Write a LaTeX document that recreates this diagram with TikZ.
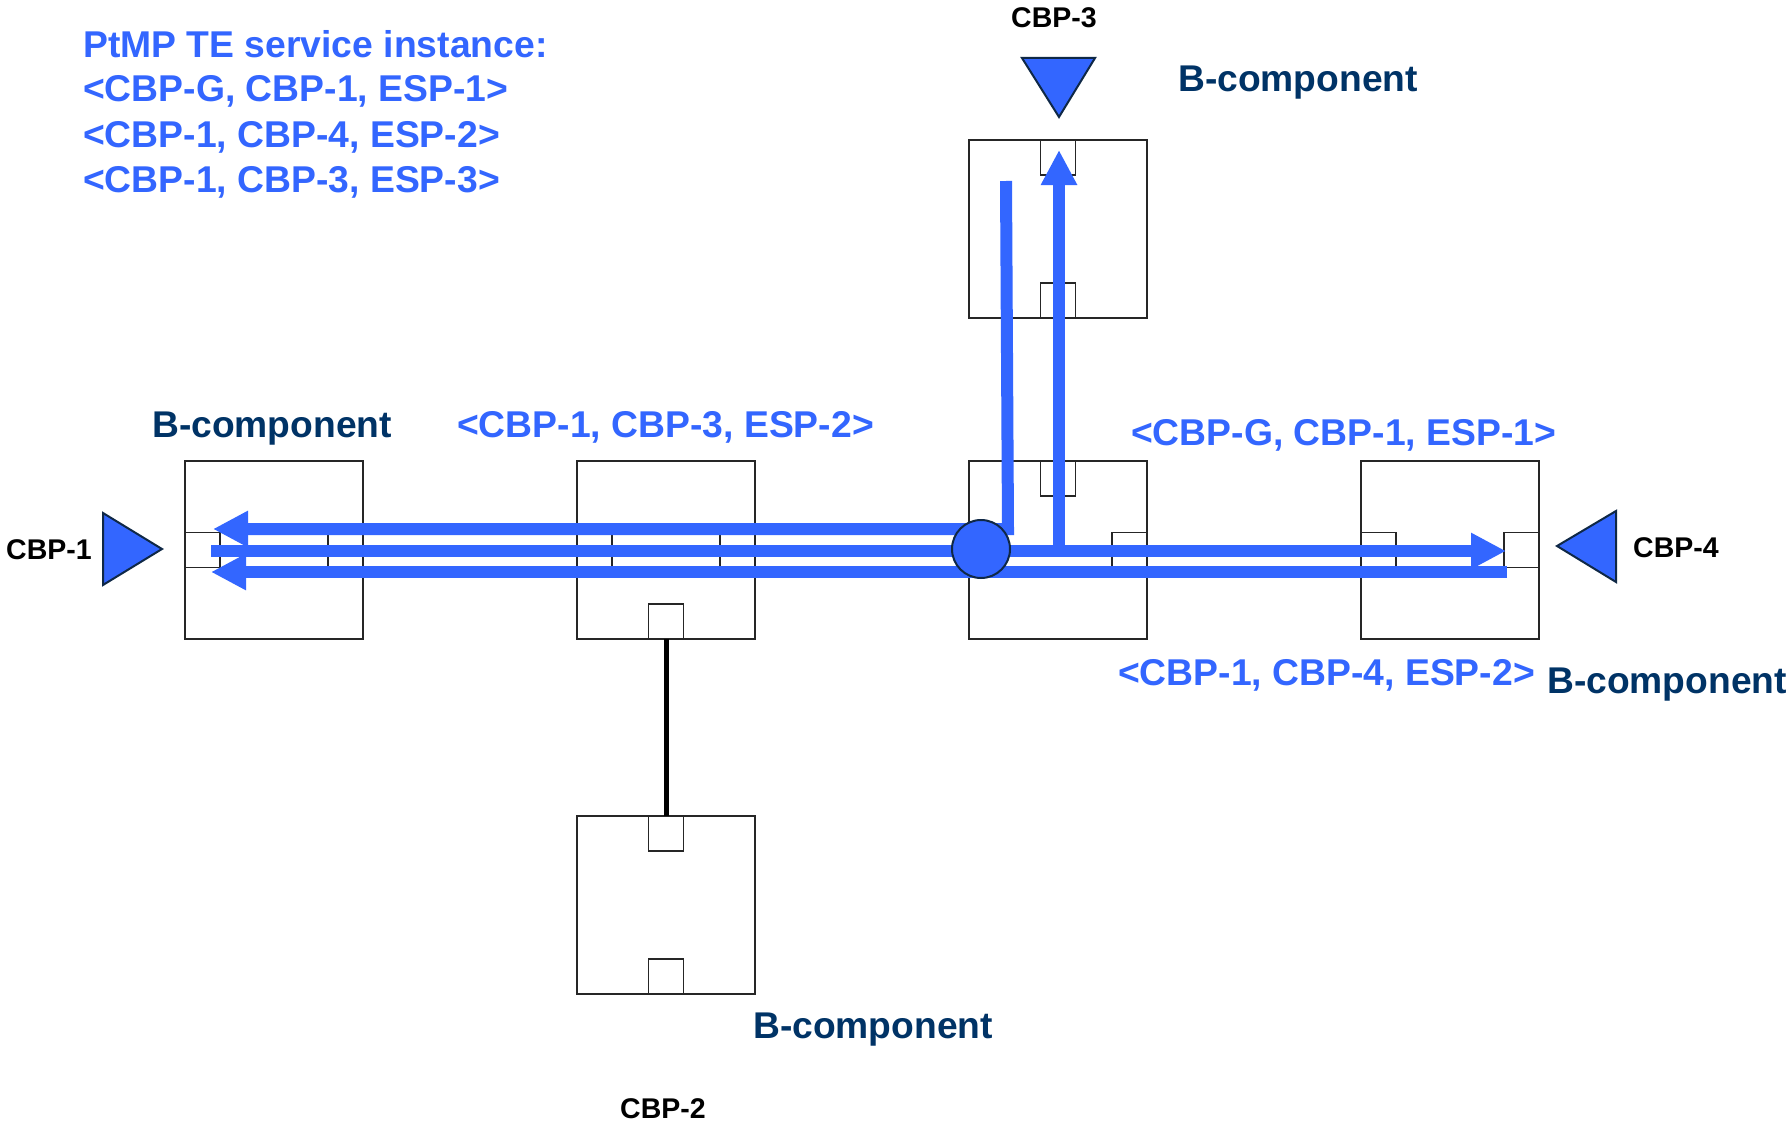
\documentclass[tikz,border=0pt]{standalone}
\usepackage{fontspec}
\setmainfont{Liberation Sans}
\usetikzlibrary{arrows.meta}
\definecolor{pblue}{RGB}{51,102,255}
\definecolor{navy}{RGB}{0,51,102}
\definecolor{triedge}{RGB}{15,40,70}
\begin{document}
\begin{tikzpicture}[x=1pt,y=-1pt,
  bcomp/.style={draw=black!85, line width=1.5pt, minimum width=178pt, minimum height=178pt, inner sep=0pt, outer sep=0pt},
  port/.style={draw=black!85, line width=1.3pt, minimum width=35pt, minimum height=35pt, inner sep=0pt, outer sep=0pt},
  flow/.style={draw=pblue, line width=12pt},
  tipped/.style={-{Triangle[length=35pt,width=34pt]}},
  bluelbl/.style={text=pblue, font=\fontsize{37.3}{44}\selectfont\bfseries, inner sep=0pt, anchor=base west},
  navylbl/.style={text=navy, font=\fontsize{37.2}{44}\selectfont\bfseries, inner sep=0pt, anchor=base west},
  cbplbl/.style={text=black, font=\fontsize{28.5}{33}\selectfont\bfseries, inner sep=0pt, anchor=base west},
  cbptri/.style={fill=pblue, draw=triedge, line width=2pt, line join=miter},
  hubstyle/.style={circle, fill=pblue, draw=triedge, line width=2pt, minimum size=58pt, inner sep=0pt}
]
\fill[white] (0,0) rectangle (1791,1121);
\useasboundingbox (0,0) rectangle (1791,1121);

% B-components
\node[bcomp] (b1) at (274,550) {};
\node[bcomp] (b2) at (666,550) {};
\node[bcomp] (b4) at (1058,550) {};
\node[bcomp] (b5) at (1450,550) {};
\node[bcomp] (bt) at (1058,229) {};
\node[bcomp] (bb) at (666,905) {};

% ports
\node[port, anchor=west]  (p1w) at (b1.west) {};
\node[port, anchor=east]  (p1e) at (b1.east) {};
\node[port, anchor=west]  (p2w) at (b2.west) {};
\node[port, anchor=east]  (p2e) at (b2.east) {};
\node[port, anchor=south] (p2s) at (b2.south) {};
\node[port, anchor=north] (p4n) at (b4.north) {};
\node[port, anchor=east]  (p4e) at (b4.east) {};
\node[port, anchor=west]  (p5w) at (b5.west) {};
\node[port, anchor=east]  (p5e) at (b5.east) {};
\node[port, anchor=north] (ptn) at (bt.north) {};
\node[port, anchor=south] (pts) at (bt.south) {};
\node[port, anchor=north] (pbn) at (bb.north) {};
\node[port, anchor=south] (pbs) at (bb.south) {};

% link between B-components
\draw[line width=5pt, black] (p2s.south) -- (pbn.north);

% flow end points
\coordinate (topstart) at (1006,181);
\coordinate (topcorner) at (1008,529);
\coordinate (topend) at (213,529);
\coordinate (midstart) at (211,551);
\coordinate (midend) at (1506,551);
\coordinate (upstart) at (1059,551);
\coordinate (upend) at (1059,150);
\coordinate (botstart) at (1507,572);
\coordinate (botend) at (211,572);

\draw[flow, tipped] (topstart) -- (topcorner) -- (topend);
\draw[flow, tipped] (midstart) -- (midend);
\draw[flow, tipped] (upstart) -- (upend);
\draw[flow, tipped] (botstart) -- (botend);

\node[hubstyle] (hub) at (981,549) {};

% CBP triangles
\draw[cbptri] (103,513) -- (103,585) -- (162,549) -- cycle;
\draw[cbptri] (1616,511) -- (1616,582) -- (1557,546) -- cycle;
\draw[cbptri] (1022,58) -- (1095,58) -- (1059,117) -- cycle;

% texts
\node[bluelbl] (t1) at (83,58) {PtMP TE service instance:};
\node[bluelbl] (t2) at (83,102) {<CBP-G, CBP-1, ESP-1>};
\node[bluelbl] (t3) at (83,147) {<CBP-1, CBP-4, ESP-2>};
\node[bluelbl] (t4) at (83,192) {<CBP-1, CBP-3, ESP-3>};

\node[bluelbl] (l13) at (457,437) {<CBP-1, CBP-3, ESP-2>};
\node[bluelbl] (lg1) at (1131,445) {<CBP-G, CBP-1, ESP-1>};
\node[bluelbl] (l14) at (1118,685) {<CBP-1, CBP-4, ESP-2>};

\node[navylbl] (n1) at (1178,92) {B-component};
\node[navylbl] (n2) at (152,437) {B-component};
\node[navylbl] (n3) at (1547,693) {B-component};
\node[navylbl] (n4) at (753,1038) {B-component};

\node[cbplbl] (c1) at (6,559) {CBP-1};
\node[cbplbl] (c2) at (620,1118) {CBP-2};
\node[cbplbl] (c3) at (1011,28) {CBP-3};
\node[cbplbl] (c4) at (1633,557) {CBP-4};
\end{tikzpicture}
\end{document}
